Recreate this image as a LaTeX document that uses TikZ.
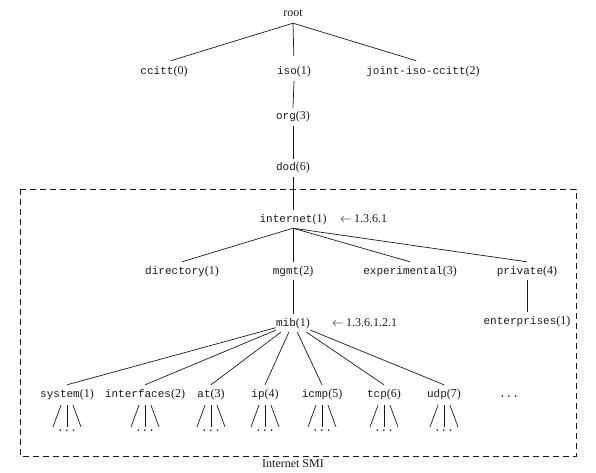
\documentclass[tikz,border=0pt]{standalone}
\usepackage{fontspec}
\setmainfont{Liberation Serif}
\setmonofont{Liberation Mono}[Scale=0.92]
\usetikzlibrary{positioning}
\definecolor{smiink}{HTML}{1A1A1A}
\tikzset{
  oid/.style={font=\fontsize{12}{14}\selectfont, text=smiink, inner sep=0pt, minimum height=18pt, text height=8.5pt, text depth=2.5pt},
  more/.style={font=\fontsize{12}{14}\selectfont, text=smiink, inner sep=0pt},
  branch/.style={draw=smiink, line width=0.7pt},
  smibox/.style={draw=smiink, line width=0.7pt, dash pattern=on 6pt off 4pt},
}
\begin{document}
\begin{tikzpicture}[x=1pt,y=-1pt]
      \useasboundingbox (0,0) rectangle (596,473);
      % registration tree from root down to internet, then the Internet SMI box
      \node[oid] (root) at (293,14) {root};
      \node[oid] (ccitt) at (164,72) {\texttt{ccitt}(0)};
      \node[oid] (iso) at (294,72) {\texttt{iso}(1)};
      \node[oid] (joint) at (423,72) {\texttt{joint-iso-ccitt}(2)};
      \foreach \c in {ccitt,iso,joint} \draw[branch, shorten >=7pt] (root.south) -- (\c.north);
      \node[oid] (org) at (293,117) {\texttt{org}(3)};
      \node[oid] (dod) at (293,168) {\texttt{dod}(6)};
      \node[oid] (internet) at (293,219) {\texttt{internet}(1)};
      \node[oid, anchor=west] (internetoid) at (340,219) {$\leftarrow$\,1.3.6.1};
      \draw[branch] (iso.south) -- (org.north);
      \draw[branch] (org.south) -- (dod.north);
      \draw[branch] (dod.south) -- (internet.north);
      \draw[smibox] (20,189) rectangle (576,456);
      \node[oid] (smi) at (293,464) {Internet SMI};
      \node[oid] (directory) at (182,271) {\texttt{directory}(1)};
      \node[oid] (mgmt) at (293,271) {\texttt{mgmt}(2)};
      \node[oid] (experimental) at (410,271) {\texttt{experimental}(3)};
      \node[oid] (private) at (527,271) {\texttt{private}(4)};
      \foreach \c in {directory,mgmt,experimental,private} \draw[branch] (internet.south) -- (\c.north);
      \node[oid] (mib) at (293,323) {\texttt{mib}(1)};
      \node[oid, anchor=west] (miboid) at (332,323) {$\leftarrow$\,1.3.6.1.2.1};
      \node[oid] (enterprises) at (527,321) {\texttt{enterprises}(1)};
      \draw[branch] (mgmt.south) -- (mib.north);
      \draw[branch] (private.south) -- (enterprises.north);
      \foreach \name/\x/\num in {system/67/1,interfaces/145/2,at/211/3,ip/265/4,icmp/322/5,tcp/384/6,udp/444/7} {
        \node[oid] (\name) at (\x,394) {\texttt{\name}(\num)};
        \node[more] (\name-more) at (\x,431) {\texttt{...}};
        \draw[branch] (mib) -- (\name.north);
        \draw[branch] ([xshift=-6pt,yshift=-2pt]\name.south) -- ([xshift=-14pt,yshift=3pt]\name-more.north);
        \draw[branch] ([yshift=-2pt]\name.south) -- ([yshift=3pt]\name-more.north);
        \draw[branch] ([xshift=6pt,yshift=-2pt]\name.south) -- ([xshift=14pt,yshift=3pt]\name-more.north);
      }
      \node[oid] (rest) at (509,394) {\texttt{...}};
    \end{tikzpicture}
\end{document}
